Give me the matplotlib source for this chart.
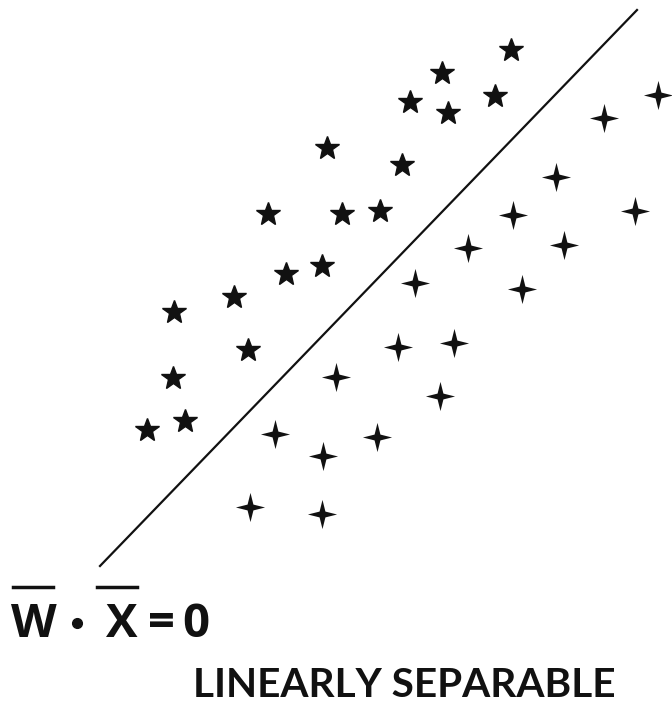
import matplotlib
matplotlib.use('Agg')
import matplotlib.pyplot as plt
from matplotlib.path import Path

# positions (pixel grid, y going down)
star_x = [511, 442, 410, 448, 495, 327, 402, 268, 342, 380, 286, 322, 234, 174, 248, 173, 147, 185]
star_y = [50, 73, 102, 113, 96, 148, 165, 214, 214, 211, 274, 266, 297, 312, 350, 378, 430, 421]

plus_x = [658, 604, 556, 513, 635, 468, 564, 415, 522, 398, 454, 336, 440, 275, 377, 323, 250, 322]
plus_y = [95, 118, 177, 215, 211, 248, 245, 283, 289, 347, 343, 377, 396, 434, 437, 456, 507, 514]

line_x = [100, 637]
line_y = [566, 10]

# four-pointed star marker
k = 0.2
four_star = Path([(0, 1), (k, k), (1, 0), (k, -k), (0, -1), (-k, -k), (-1, 0), (-k, k), (0, 1)],
                 [Path.MOVETO] + [Path.LINETO] * 7 + [Path.CLOSEPOLY])

fig = plt.figure(figsize=(6.72, 7.05), dpi=100)
ax = fig.add_axes([0, 0, 1, 1])
ax.set_xlim(0, 672)
ax.set_ylim(705, 0)
ax.axis('off')

ax.plot(line_x, line_y, color='#111111', lw=1.6)
ax.plot(star_x, star_y, ls='none', marker='*', ms=18, color='#111111')
ax.plot(plus_x, plus_y, ls='none', marker=four_star, ms=21, color='#111111', mew=0)

font = ['Open Sans', 'DejaVu Sans']
eq_kw = dict(fontsize=34, fontweight='bold', family=font, color='#111111', va='baseline')
ax.text(11, 637, 'W', **eq_kw)
ax.text(106, 637, 'X', **eq_kw)
ax.text(148, 637, '=', **eq_kw)
ax.text(182, 637, '0', **eq_kw)
ax.plot([77], [623], marker='o', ms=7, color='#111111')
ax.plot([13, 53], [587, 587], color='#111111', lw=2.5)
ax.plot([97, 137], [587, 587], color='#111111', lw=2.5)

ax.text(404, 697, 'LINEARLY SEPARABLE', fontsize=29.2, fontweight='bold', family=['Lato', 'DejaVu Sans'],
        color='#111111', ha='center', va='baseline')

fig.savefig('out.png', dpi=100)
